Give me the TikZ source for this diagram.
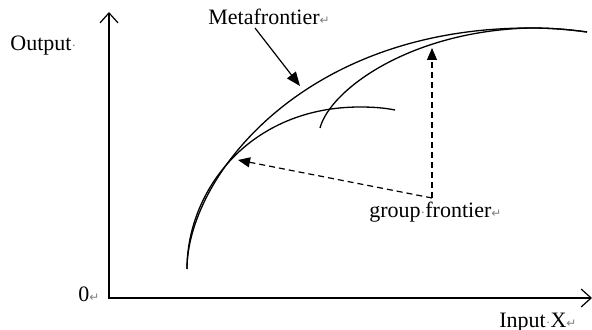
\documentclass[tikz,border=0pt]{standalone}
\usepackage{fontspec}
\setmainfont{Liberation Serif}
\newfontfamily\markfont{DejaVu Sans}
\usepackage{tikz}
\usetikzlibrary{arrows.meta, positioning}
\newcommand{\pmark}{{\markfont\fontsize{6}{6}\selectfont\color{gray}\char"21B5}}
\newcommand{\smark}{{\color{gray}\fontsize{7}{7}\selectfont\char"00B7}}
\tikzset{
	axisarr/.style={{Straight Barb[length=5pt,width=9pt]}-{Straight Barb[length=5pt,width=9pt]}, line width=0.6pt},
	frontier/.style={line width=0.65pt},
	labelarr/.style={-{Triangle[length=7pt,width=5.5pt]}, line width=0.6pt},
	dasharr/.style={-{Triangle[length=6pt,width=5pt]}, dash pattern=on 3pt off 2pt, line width=0.6pt},
	lbl/.style={font=\fontsize{11}{13}\selectfont, inner sep=0pt, anchor=west},
}

\begin{document}
\begin{tikzpicture}[x=0.5pt, y=-0.5pt]
	\useasboundingbox (0,0) rectangle (592,330);
	% axes
	\coordinate (ytop) at (109,12);
	\coordinate (o) at (109,298);
	\coordinate (xend) at (592,298);
	\draw[axisarr] (ytop) -- (o) -- (xend);
	\node[lbl] (out) at (10,46) {Output\smark};
	\node[lbl] (zero) at (78,294) {0\pmark};
	\node[lbl] (inp) at (499,323) {Input\smark X\pmark};
	% metafrontier
	\coordinate (mbase) at (187,269);
	\coordinate (mpeak) at (530,28);
	\coordinate (mend) at (587,32);
	\draw[frontier] (mbase) .. controls (187,180) and (300,28) .. (mpeak)
		.. controls (555,28) and (572,30) .. (mend);
	% group frontiers
	\coordinate (g1peak) at (360,107);
	\coordinate (g1end) at (395,110);
	\draw[frontier] (mbase) .. controls (187,190) and (250,107) .. (g1peak)
		.. controls (374,107) and (385,108) .. (g1end);
	\coordinate (g2base) at (320,128);
	\draw[frontier] (g2base) .. controls (330,90) and (410,31) .. (mpeak)
		.. controls (555,28) and (572,30) .. (mend);
	% labels
	\node[lbl] (meta) at (208,17) {Metafrontier\pmark};
	\coordinate (mstart) at (255,28);
	\coordinate (mtip) at (300,86);
	\draw[labelarr] (mstart) -- (mtip);
	\node[lbl] (grp) at (369,212) {group\smark frontier\pmark};
	\coordinate (gf) at (432,198);
	\coordinate (g1tip) at (238,160);
	\coordinate (g2tip) at (432,48);
	\draw[dasharr] (gf) -- (g2tip);
	\draw[dasharr] (gf) -- (g1tip);
\end{tikzpicture}
\end{document}
